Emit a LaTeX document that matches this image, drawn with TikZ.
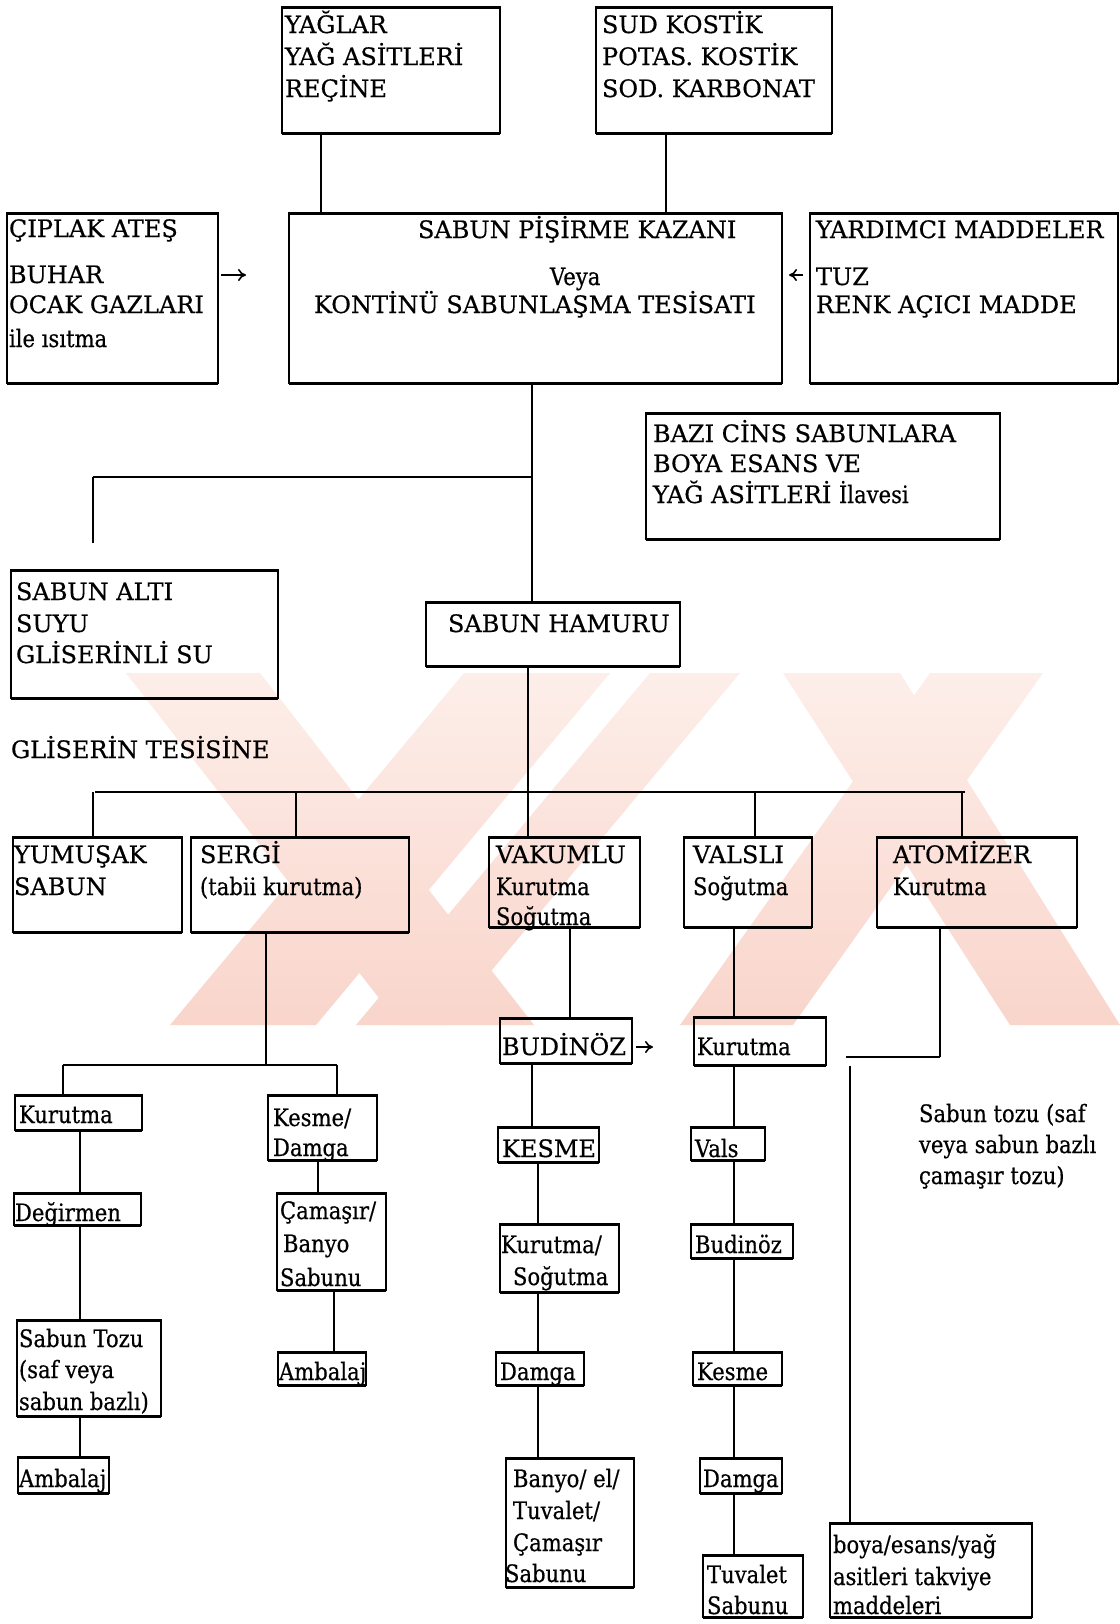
\documentclass[tikz,border=0pt]{standalone}
\usepackage{fontspec}
\setmainfont{DejaVu Serif}[FakeBold=0.5]
\newfontfamily\cnd{DejaVu Serif}[FakeStretch=0.88,FakeBold=0.5]
\usetikzlibrary{arrows.meta}
\definecolor{wmt}{RGB}{253,238,233}
\definecolor{wmb}{RGB}{249,213,203}
\tikzset{
  hln/.style={draw, line width=1.5pt, -},
  bx/.style={draw, line width=0.9pt, inner sep=0pt, outer sep=0pt, anchor=north west,
    append after command={(\tikzlastnode.north west) edge[hln] (\tikzlastnode.north east)
                          (\tikzlastnode.south west) edge[hln] (\tikzlastnode.south east)}},
  tx/.style={anchor=base west, inner sep=0pt, outer sep=0pt, font=\fontsize{12}{15}\selectfont},
  txc/.style={tx, font=\cnd\fontsize{12}{15}\selectfont},
  cn/.style={line width=0.9pt},
  hc/.style={line width=1.4pt},
  ar/.style={line width=0.8pt, -{To[length=4pt,width=6pt]}},
  wmk/.style={top color=wmt, bottom color=wmb, draw=none}
}
\newcommand\mkbox[5]{\node[bx, minimum width={(#4-#2)*0.5pt}, minimum height={(#5-#3)*0.5pt}] (#1) at (#2,#3) {};}
\newcommand\tline[4]{\node[tx] (#1) at (#2,#3) {#4};}
\newcommand\tlc[4]{\node[txc] (#1) at (#2,#3) {#4};}
\begin{document}
\begin{tikzpicture}[x=0.5pt,y=-0.5pt]
\fill[white] (0,0) rectangle (1120,1624);
\useasboundingbox (0,0) rectangle (1120,1624);
% watermark stripes
\shade[wmk] (126,673) -- (260,673) -- (534,1025) -- (400,1025) -- cycle;
\shade[wmk] (464,673) -- (610,673) -- (316,1025) -- (170,1025) -- cycle;
\shade[wmk] (650,673) -- (740,673) -- (446,1025) -- (356,1025) -- cycle;
\shade[wmk] (783,673) -- (900,673) -- (1120,1025) -- (1010,1025) -- cycle;
\shade[wmk] (930,673) -- (1043,673) -- (793,1025) -- (680,1025) -- cycle;
% boxes
\mkbox{yag}{282}{7}{500}{133}
\mkbox{sud}{596}{7}{832}{133}
\mkbox{cip}{7}{213}{218}{383}
\mkbox{kaz}{289}{213}{782}{383}
\mkbox{yard}{810}{213}{1118}{383}
\mkbox{bazi}{646}{413}{1000}{539}
\mkbox{alt}{11}{570}{278}{698}
\mkbox{ham}{426}{602}{680}{666}
\mkbox{yum}{13}{837}{182}{932}
\mkbox{serg}{191}{837}{409}{932}
\mkbox{vak}{489}{837}{640}{927}
\mkbox{val}{684}{837}{812}{927}
\mkbox{atom}{877}{837}{1077}{927}
\mkbox{bud}{500}{1018}{632}{1063}
\mkbox{kurv}{694}{1017}{826}{1065}
\mkbox{kurl}{15}{1095}{142}{1130}
\mkbox{deg}{14}{1193}{141}{1225}
\mkbox{toz}{17}{1320}{161}{1416}
\mkbox{ambl}{18}{1457}{109}{1493}
\mkbox{kesd}{268}{1095}{377}{1160}
\mkbox{cam}{277}{1193}{386}{1290}
\mkbox{ambm}{278}{1352}{366}{1385}
\mkbox{kes}{498}{1127}{599}{1162}
\mkbox{kursog}{500}{1224}{619}{1292}
\mkbox{dam}{496}{1352}{584}{1385}
\mkbox{ban}{506}{1458}{634}{1587}
\mkbox{vals}{691}{1127}{765}{1160}
\mkbox{budb}{691}{1224}{793}{1258}
\mkbox{kesb}{693}{1352}{782}{1385}
\mkbox{damb}{700}{1458}{782}{1493}
\mkbox{tuv}{703}{1555}{803}{1617}
\mkbox{boya}{830}{1523}{1032}{1617}
% texts
\tline{t1}{285}{33}{YAĞLAR}
\tline{t2}{285}{65}{YAĞ ASİTLERİ}
\tline{t3}{285}{97}{REÇİNE}
\tline{t4}{602}{33}{SUD KOSTİK}
\tline{t5}{602}{65}{POTAS. KOSTİK}
\tline{t6}{602}{97}{SOD. KARBONAT}
\tline{t7}{9}{237}{ÇIPLAK ATEŞ}
\tline{t8}{9}{283}{BUHAR}
\tline{t9}{9}{313}{OCAK GAZLARI}
\tlc{t10}{9}{347}{ile ısıtma}
\tline{t11}{418}{238}{SABUN PİŞİRME KAZANI}
\tlc{t12}{550}{285}{Veya}
\tline{t13}{314}{313}{KONTİNÜ SABUNLAŞMA TESİSATI}
\tline{t14}{816}{238}{YARDIMCI MADDELER}
\tline{t15}{816}{285}{TUZ}
\tline{t16}{816}{313}{RENK AÇICI MADDE}
\tline{t17}{653}{442}{BAZI CİNS SABUNLARA}
\tline{t18}{653}{472}{BOYA ESANS VE}
\tline{t19}{653}{503}{YAĞ ASİTLERİ {\cnd İlavesi}}
\tline{t20}{16}{600}{SABUN ALTI}
\tline{t21}{16}{632}{SUYU}
\tline{t22}{16}{663}{GLİSERİNLİ SU}
\tline{t23}{448}{632}{SABUN HAMURU}
\tline{t24}{11}{758}{GLİSERİN TESİSİNE}
\tline{t25}{14}{863}{YUMUŞAK}
\tline{t26}{14}{895}{SABUN}
\tline{t27}{200}{863}{SERGİ}
\tlc{t28}{200}{895}{(tabii kurutma)}
\tline{t29}{496}{863}{VAKUMLU}
\tlc{t30}{496}{895}{Kurutma}
\tlc{t31}{496}{925}{Soğutma}
\tline{t32}{693}{863}{VALSLI}
\tlc{t33}{693}{895}{Soğutma}
\tline{t34}{893}{863}{ATOMİZER}
\tlc{t35}{893}{895}{Kurutma}
\tline{t36}{502}{1055}{BUDİNÖZ}
\tlc{t37}{697}{1055}{Kurutma}
\tlc{t38}{919}{1122}{Sabun tozu (saf}
\tlc{t39}{919}{1153}{veya sabun bazlı}
\tlc{t40}{919}{1184}{çamaşır tozu)}
\tlc{t41}{19}{1123}{Kurutma}
\tlc{t42}{15}{1221}{Değirmen}
\tlc{t43}{19}{1347}{Sabun Tozu}
\tlc{t44}{19}{1378}{(saf veya}
\tlc{t45}{19}{1410}{sabun bazlı)}
\tlc{t46}{19}{1487}{Ambalaj}
\tlc{t47}{273}{1126}{Kesme/}
\tlc{t48}{273}{1156}{Damga}
\tlc{t49}{280}{1219}{Çamaşır/}
\tlc{t50}{283}{1252}{Banyo}
\tlc{t51}{280}{1286}{Sabunu}
\tlc{t52}{279}{1380}{Ambalaj}
\tline{t53}{502}{1157}{KESME}
\tlc{t54}{501}{1253}{Kurutma/}
\tlc{t55}{513}{1285}{Soğutma}
\tlc{t56}{500}{1380}{Damga}
\tlc{t57}{513}{1487}{Banyo/ el/}
\tlc{t58}{513}{1519}{Tuvalet/}
\tlc{t59}{513}{1551}{Çamaşır}
\tlc{t60}{505}{1582}{Sabunu}
\tlc{t61}{695}{1157}{Vals}
\tlc{t62}{695}{1253}{Budinöz}
\tlc{t63}{697}{1380}{Kesme}
\tlc{t64}{703}{1487}{Damga}
\tlc{t65}{707}{1583}{Tuvalet}
\tlc{t66}{707}{1614}{Sabunu}
\tlc{t67}{833}{1553}{boya/esans/yağ}
\tlc{t68}{833}{1585}{asitleri takviye}
\tlc{t69}{833}{1614}{maddeleri}
% connector coordinates
\coordinate (c1) at (321,0);
\coordinate (c2) at (666,0);
\coordinate (cx) at (532,0);
\coordinate (br) at (93,477);
\coordinate (bre) at (93,543);
\coordinate (hx) at (528,0);
\coordinate (bus) at (95,792);
\coordinate (busr) at (965,792);
\coordinate (d1) at (93,0);
\coordinate (d2) at (296,0);
\coordinate (d4) at (755,0);
\coordinate (d5) at (962,0);
\coordinate (ya) at (0,275);
\coordinate (yb) at (0,1047);
% top connectors
\draw[cn] (yag.south -| c1) -- (kaz.north -| c1);
\draw[cn] (sud.south -| c2) -- (kaz.north -| c2);
\draw[ar, shorten <=1.5pt, shorten >=21.5pt] (cip.east |- ya) -- (kaz.west |- ya);
\draw[ar, shorten <=3.5pt, shorten >=3.5pt] (yard.west |- ya) -- (kaz.east |- ya);
\draw[cn] (kaz.south -| cx) -- (ham.north -| cx);
\draw[hc] (br -| cx) -- (br);
\draw[cn] (br) -- (bre);
% bus
\draw[cn] (ham.south -| hx) -- (bus -| hx);
\draw[hc] (bus) -- (busr);
\draw[cn] (bus -| d1) -- (yum.north -| d1);
\draw[cn] (bus -| d2) -- (serg.north -| d2);
\draw[cn] (bus -| hx) -- (vak.north -| hx);
\draw[cn] (bus -| d4) -- (val.north -| d4);
\draw[cn] (bus -| d5) -- (atom.north -| d5);
% sergi branch
\coordinate (sx) at (266,1065);
\coordinate (sl) at (63,0);
\coordinate (sr) at (337,0);
\draw[cn] (serg.south -| sx) -- (sx);
\draw[hc] (sx -| sl) -- (sx -| sr);
\draw[cn] (sx -| sl) -- (kurl.north -| sl);
\draw[cn] (sx -| sr) -- (kesd.north -| sr);
% left chain
\coordinate (lx) at (80,0);
\draw[cn] (kurl.south -| lx) -- (deg.north -| lx);
\draw[cn] (deg.south -| lx) -- (toz.north -| lx);
\draw[cn] (toz.south -| lx) -- (ambl.north -| lx);
% middle chain
\coordinate (mx1) at (318,0);
\coordinate (mx2) at (334,0);
\draw[cn] (kesd.south -| mx1) -- (cam.north -| mx1);
\draw[cn] (cam.south -| mx2) -- (ambm.north -| mx2);
% vakumlu chain
\coordinate (vx) at (570,0);
\coordinate (vx2) at (532,0);
\coordinate (vx3) at (538,0);
\draw[cn] (vak.south -| vx) -- (bud.north -| vx);
\draw[ar, shorten <=2pt, shorten >=20.5pt] (bud.east |- yb) -- (kurv.west |- yb);
\draw[cn] (bud.south -| vx2) -- (kes.north -| vx2);
\draw[cn] (kes.south -| vx3) -- (kursog.north -| vx3);
\draw[cn] (kursog.south -| vx3) -- (dam.north -| vx3);
\draw[cn] (dam.south -| vx3) -- (ban.north -| vx3);
% valsli chain
\coordinate (wx) at (734,0);
\draw[cn] (val.south -| wx) -- (kurv.north -| wx);
\draw[cn] (kurv.south -| wx) -- (vals.north -| wx);
\draw[cn] (vals.south -| wx) -- (budb.north -| wx);
\draw[cn] (budb.south -| wx) -- (kesb.north -| wx);
\draw[cn] (kesb.south -| wx) -- (damb.north -| wx);
\draw[cn] (damb.south -| wx) -- (tuv.north -| wx);
% atomizer
\coordinate (ax) at (940,1057);
\coordinate (ac) at (846,1057);
\coordinate (bv) at (850,1066);
\draw[cn] (atom.south -| ax) -- (ax);
\draw[hc] (ax) -- (ac);
\draw[cn] (bv) -- (boya.north -| bv);
\end{tikzpicture}
\end{document}
